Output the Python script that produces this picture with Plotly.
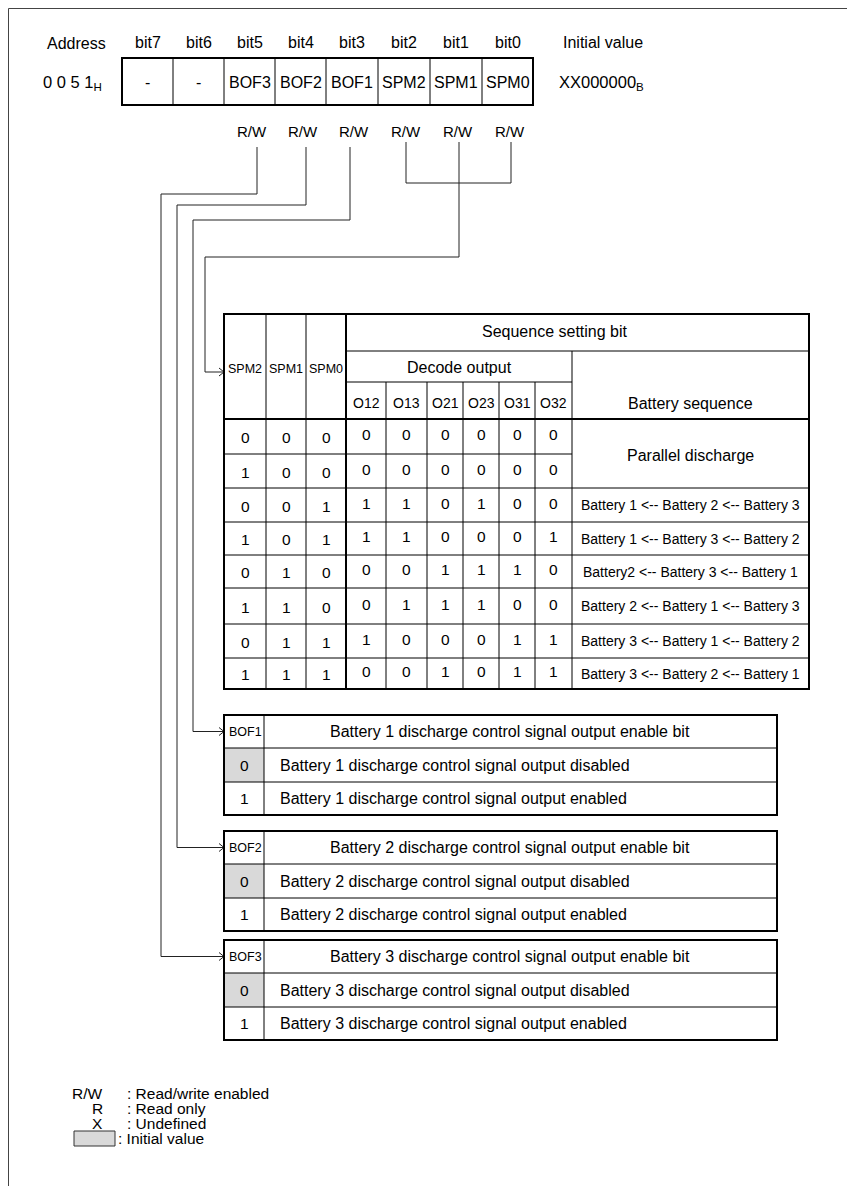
import plotly.graph_objects as go

W, H = 855, 1194
OFF = 8  # default page body margin
FONT = "Liberation Sans, Arial, sans-serif"

# ---------------- data ----------------
bit_labels = ["bit7", "bit6", "bit5", "bit4", "bit3", "bit2", "bit1", "bit0"]
bit_names = ["-", "-", "BOF3", "BOF2", "BOF1", "SPM2", "SPM1", "SPM0"]
rw_labels = ["", "", "R/W", "R/W", "R/W", "R/W", "R/W", "R/W"]
address_label = "Address"
address_value = "0 0 5 1<sub>H</sub>"
initial_label = "Initial value"
initial_value = "XX000000<sub>B</sub>"

seq_title = "Sequence setting bit"
decode_title = "Decode output"
battery_title = "Battery sequence"
spm_headers = ["SPM2", "SPM1", "SPM0"]
decode_headers = ["O12", "O13", "O21", "O23", "O31", "O32"]
spm_values = [
    [0, 0, 0], [1, 0, 0], [0, 0, 1], [1, 0, 1],
    [0, 1, 0], [1, 1, 0], [0, 1, 1], [1, 1, 1],
]
decode_values = [
    [0, 0, 0, 0, 0, 0],
    [0, 0, 0, 0, 0, 0],
    [1, 1, 0, 1, 0, 0],
    [1, 1, 0, 0, 0, 1],
    [0, 0, 1, 1, 1, 0],
    [0, 1, 1, 1, 0, 0],
    [1, 0, 0, 0, 1, 1],
    [0, 0, 1, 0, 1, 1],
]
parallel_text = "Parallel discharge"
sequences = [
    "Battery 1 &lt;-- Battery 2 &lt;-- Battery 3",
    "Battery 1 &lt;-- Battery 3 &lt;-- Battery 2",
    "Battery2 &lt;-- Battery 3 &lt;-- Battery 1",
    "Battery 2 &lt;-- Battery 1 &lt;-- Battery 3",
    "Battery 3 &lt;-- Battery 1 &lt;-- Battery 2",
    "Battery 3 &lt;-- Battery 2 &lt;-- Battery 1",
]

bof_names = ["BOF1", "BOF2", "BOF3"]
bof_titles = [
    "Battery 1 discharge control signal output enable bit",
    "Battery 2 discharge control signal output enable bit",
    "Battery 3 discharge control signal output enable bit",
]
bof_disabled = [
    "Battery 1 discharge control signal output disabled",
    "Battery 2 discharge control signal output disabled",
    "Battery 3 discharge control signal output disabled",
]
bof_enabled = [
    "Battery 1 discharge control signal output enabled",
    "Battery 2 discharge control signal output enabled",
    "Battery 3 discharge control signal output enabled",
]
legend_keys = ["R/W", "R", "X"]
legend_texts = [": Read/write enabled", ": Read only", ": Undefined"]
legend_initial = ": Initial value"

# ---------------- layout geometry ----------------
INK = "#000000"
WIRE = "#222222"
GRAY = "#d9d9d9"

shapes = []
annots = []


def line(x0, y0, x1, y1, w=1, color=INK):
    shapes.append(dict(type="line", xref="x", yref="y", x0=x0, y0=y0, x1=x1, y1=y1,
                       line=dict(color=color, width=w)))


def rect(x0, y0, x1, y1, w=1, fill=None, color=INK):
    d = dict(type="rect", xref="x", yref="y", x0=x0, y0=y0, x1=x1, y1=y1,
             line=dict(color=color, width=w))
    if fill:
        d["fillcolor"] = fill
        d["layer"] = "below"
    shapes.append(d)


def text(x, y, s, size=16, xa="center"):
    annots.append(dict(x=x, y=y, xref="x", yref="y", text=s, showarrow=False,
                       xanchor=xa, yanchor="middle",
                       font=dict(family=FONT, size=size, color=INK)))


def arrow_to(x_from, x_tip, y):
    line(x_from, y, x_tip, y, 1, WIRE)
    shapes.append(dict(type="path", xref="x", yref="y",
                       path=f"M {x_tip-5},{y-4} L {x_tip},{y} L {x_tip-5},{y+4}",
                       line=dict(color=WIRE, width=1)))


# outer frame (left and top)
line(8.5, 8.5, 855, 8.5, 1, "#444444")
line(8.5, 8.5, 8.5, H, 1, "#444444")

# register header
reg_x = [122, 173, 224, 275, 326, 378, 430, 482, 533]
reg_top, reg_bot = 58, 105
text(76, 43, address_label, 16)
text(603, 42, initial_label, 16)
text(72, 83, address_value, 16.5)
text(601, 83, initial_value, 16.5)
for i in range(8):
    cx = (reg_x[i] + reg_x[i + 1]) / 2
    text(cx, 42, bit_labels[i], 16)
    text(cx, 82, bit_names[i], 16)
    if rw_labels[i]:
        text(cx + 2, 131, rw_labels[i], 15)
    if 0 < i < 8:
        line(reg_x[i], reg_top, reg_x[i], reg_bot, 1)
rect(reg_x[0], reg_top, reg_x[-1], reg_bot, 2)

# wiring
bof_vx = {2: 257, 3: 306, 4: 350}        # bit index -> wire x under R/W
bof_hy = {2: 194, 3: 205, 4: 220}        # horizontal run y
bof_dx = {2: 161, 3: 177, 4: 193}        # vertical drop x
bof_tops = [715, 831, 940]               # BOF1, BOF2, BOF3
bof_row = [0, 33, 67, 100]
bof_left, bof_mid, bof_right = 224, 264, 777
for bit, tbl in zip([4, 3, 2], [0, 1, 2]):
    ya = bof_tops[tbl] + (bof_row[0] + bof_row[1]) / 2
    line(bof_vx[bit], 147, bof_vx[bit], bof_hy[bit], 1, WIRE)
    line(bof_vx[bit], bof_hy[bit], bof_dx[bit], bof_hy[bit], 1, WIRE)
    line(bof_dx[bit], bof_hy[bit], bof_dx[bit], ya, 1, WIRE)
    arrow_to(bof_dx[bit], bof_left, ya)

# SPM wiring
spm_wx = [406, 459, 511]
line(spm_wx[0], 142, spm_wx[0], 183, 1, WIRE)
line(spm_wx[2], 142, spm_wx[2], 183, 1, WIRE)
line(spm_wx[0], 183, spm_wx[2], 183, 1, WIRE)
line(spm_wx[1], 142, spm_wx[1], 257, 1, WIRE)
line(spm_wx[1], 257, 205, 257, 1, WIRE)
line(205, 257, 205, 372, 1, WIRE)

# ---------------- sequence table ----------------
t_left, t_right = 224, 809
t_top, t_h1, t_h2, t_hb = 314, 351, 382, 419
spm_cols = [224, 266, 306, 346]
dec_cols = [346, 386, 427, 463, 499, 535, 572]
row_y = [419, 454, 488, 522, 555, 588, 624, 658, 689]
t_bot = row_y[-1]
arrow_to(205, t_left, 372)

for x in spm_cols[1:3]:
    line(x, t_top, x, t_bot, 1)
line(346, t_top, 346, t_bot, 2)
for x in dec_cols[1:6]:
    line(x, t_h2, x, t_bot, 1)
line(572, t_h1, 572, t_bot, 1)
line(346, t_h1, t_right, t_h1, 1)
line(346, t_h2, 572, t_h2, 1)
line(t_left, t_hb, t_right, t_hb, 2)
for k, y in enumerate(row_y[1:-1], start=1):
    line(t_left, y, 572 if k == 1 else t_right, y, 1)
rect(t_left, t_top, t_right, t_bot, 2)

text(555, 331, seq_title, 16)
text(459, 367, decode_title, 16)
text(690, 403, battery_title, 16)
for j, h in enumerate(spm_headers):
    text((spm_cols[j] + spm_cols[j + 1]) / 2, 369, h, 12.5)
for j, h in enumerate(decode_headers):
    text((dec_cols[j] + dec_cols[j + 1]) / 2, 403, h, 14)

for r in range(8):
    cy = (row_y[r] + row_y[r + 1]) / 2
    for j in range(3):
        text((spm_cols[j] + spm_cols[j + 1]) / 2, cy + 1, str(spm_values[r][j]), 15.5)
    for j in range(6):
        text((dec_cols[j] + dec_cols[j + 1]) / 2, cy - 2, str(decode_values[r][j]), 15.5)
    if r >= 2:
        text(690, cy, sequences[r - 2], 14)
text(690, (row_y[0] + row_y[2]) / 2 + 2, parallel_text, 16)

# ---------------- BOF tables ----------------
for t in range(3):
    top = bof_tops[t]
    ys = [top + d for d in bof_row]
    rect(bof_left, ys[1], bof_mid, ys[2], 0, fill=GRAY)
    line(bof_mid, ys[0], bof_mid, ys[3], 1)
    line(bof_left, ys[1], bof_right, ys[1], 1)
    line(bof_left, ys[2], bof_right, ys[2], 1)
    rect(bof_left, ys[0], bof_right, ys[3], 2)
    c = [(ys[i] + ys[i + 1]) / 2 for i in range(3)]
    text(245, c[0], bof_names[t], 12.5)
    text(510, c[0], bof_titles[t], 16)
    text(244, c[1], "0", 15.5)
    text(244, c[2], "1", 15.5)
    text(278, c[1], bof_disabled[t], 16, "left")
    text(278, c[2], bof_enabled[t], 16, "left")

# ---------------- legend ----------------
leg_y = [1093, 1108, 1123]
for k, s, y in zip(legend_keys, legend_texts, leg_y):
    text(105, y, k, 15.5, "right")
    text(125, y, s, 15.5, "left")
rect(74, 1131, 115, 1146, 1, fill=GRAY, color="#333333")
text(116, 1138, legend_initial, 15.5, "left")

fig = go.Figure()
fig.update_layout(
    width=W - 2 * OFF, height=H - 2 * OFF,
    margin=dict(l=0, r=0, t=0, b=0),
    paper_bgcolor="white", plot_bgcolor="white",
    xaxis=dict(range=[OFF, W - OFF], visible=False, fixedrange=True),
    yaxis=dict(range=[H - OFF, OFF], visible=False, fixedrange=True),
    shapes=shapes, annotations=annots, showlegend=False,
)
fig.write_html("out.html")
